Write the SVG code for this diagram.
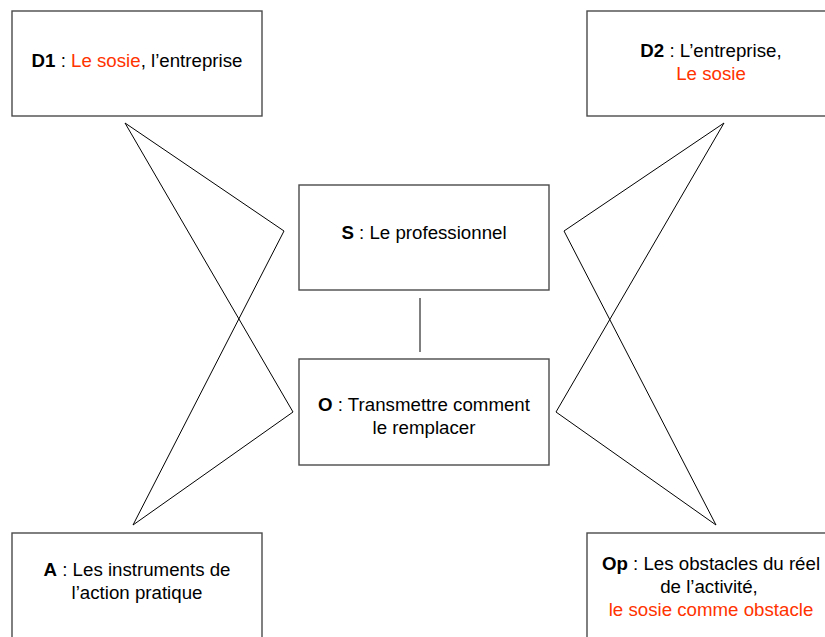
<svg xmlns="http://www.w3.org/2000/svg" width="825" height="637" viewBox="0 0 825 637">
  <style>
    .box { fill: #ffffff; stroke: #4a4a4a; stroke-width: 1.4; }
    .link { fill: none; stroke: #000000; stroke-width: 1; stroke-linejoin: miter; }
    text { font-family: "Liberation Sans", Arial, sans-serif; font-size: 18.7px; fill: #000000; text-anchor: middle; }
    .b { font-weight: bold; }
    .red { fill: #ff3300; }
  </style>
  <rect width="825" height="637" fill="#ffffff"/>

  <!-- connectors -->
  <g id="connectors">
    <polyline class="link" points="125,123 284,231 133,525 293,412 125,123"/>
    <polyline class="link" points="724,123 564,231 716,525 556,412 724,123"/>
    <line class="link" x1="420" y1="298" x2="420" y2="352"/>
  </g>

  <g id="D1">
    <rect class="box" x="12" y="11" width="250" height="105"/>
    <text x="137" y="67"><tspan class="b">D1</tspan> : <tspan class="red">Le sosie</tspan>, l’entreprise</text>
  </g>

  <g id="D2">
    <rect class="box" x="587" y="11" width="250" height="105"/>
    <text x="711" y="57"><tspan class="b">D2</tspan> : L’entreprise,</text>
    <text x="711" y="80" class="red">Le sosie</text>
  </g>

  <g id="S">
    <rect class="box" x="299" y="185" width="250" height="105"/>
    <text x="424" y="239"><tspan class="b">S</tspan> : Le professionnel</text>
  </g>

  <g id="O">
    <rect class="box" x="299" y="359" width="250" height="106"/>
    <text x="424" y="411"><tspan class="b">O</tspan> : Transmettre comment</text>
    <text x="424" y="434">le remplacer</text>
  </g>

  <g id="A">
    <rect class="box" x="12" y="533" width="250" height="110"/>
    <text x="137" y="576"><tspan class="b">A</tspan> : Les instruments de</text>
    <text x="137" y="599">l’action pratique</text>
  </g>

  <g id="Op">
    <rect class="box" x="587" y="533" width="250" height="110"/>
    <text x="711" y="570"><tspan class="b">Op</tspan> : Les obstacles du réel</text>
    <text x="709" y="593">de l’activité,</text>
    <text x="711" y="616" class="red">le sosie comme obstacle</text>
  </g>
</svg>
